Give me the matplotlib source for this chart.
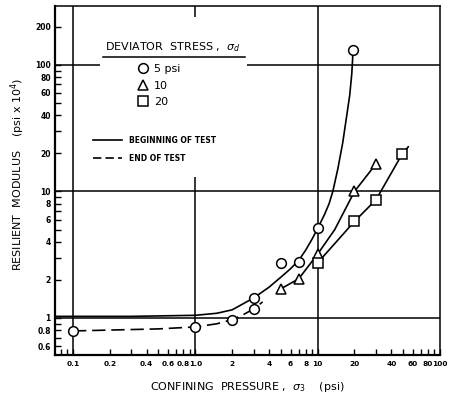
import numpy as np
import matplotlib
matplotlib.use("Agg")
import matplotlib.pyplot as plt
from matplotlib.lines import Line2D
from matplotlib.patches import Rectangle
from matplotlib.ticker import FixedLocator, FixedFormatter, LogLocator, NullFormatter

# measured points (confining pressure, resilient modulus)
circle_x = [0.1, 1.0, 2.0, 3.0, 3.0, 5.0, 7.0, 10.0, 19.4]
circle_y = [0.79, 0.85, 0.97, 1.18, 1.44, 2.73, 2.78, 5.1, 131.0]
tri_x = [5.0, 7.0, 10.0, 20.0, 30.0]
tri_y = [1.7, 2.04, 3.2, 10.0, 16.5]
sq_x = [10.0, 20.0, 30.0, 49.0]
sq_y = [2.73, 5.8, 8.6, 19.7]

# curves
begin5_x = [0.0713, 0.3, 1.0, 1.5, 2.0, 3.0, 4.0, 5.0, 6.0, 7.0, 8.0, 9.0, 10.0,
            11.4, 12.4, 13.3, 14.6, 16.0, 17.3, 18.3, 19.0, 19.3, 19.4]
begin5_y = [1.03, 1.03, 1.05, 1.09, 1.16, 1.44, 1.75, 2.1, 2.45, 2.85, 3.45, 4.2, 5.1,
            6.6, 8.0, 10.0, 15.0, 24.0, 40.0, 58.0, 85.0, 110.0, 131.0]
begin10_x = [5.0, 7.0, 10.0, 13.8, 20.0, 30.0]
begin10_y = [1.7, 2.04, 3.2, 5.0, 10.0, 16.5]
begin20_x = [10.0, 20.0, 30.0, 49.0, 55.0]
begin20_y = [2.73, 5.8, 8.6, 19.7, 22.5]
end5_x = [0.1, 0.5, 1.0, 1.5, 2.0, 2.5, 3.0, 3.55]
end5_y = [0.79, 0.82, 0.85, 0.9, 0.97, 1.07, 1.18, 1.34]

xtick_vals = [0.1, 0.2, 0.4, 0.6, 0.8, 1.0, 2, 4, 6, 8, 10, 20, 40, 60, 80, 100]
xtick_labels = ['0.1', '0.2', '0.4', '0.6', '0.8', '1.0', '2', '4', '6', '8', '10',
                '20', '40', '60', '80', '100']
ytick_vals = [0.6, 0.8, 1, 2, 4, 6, 8, 10, 20, 40, 60, 80, 100, 200]
ytick_labels = ['0.6', '0.8', '1', '2', '4', '6', '8', '10', '20', '40', '60', '80',
                '100', '200']
grid_x = [0.1, 1.0, 10.0]
grid_y = [1.0, 10.0, 100.0]

W, H = 453, 397
fig = plt.figure(figsize=(W / 100, H / 100), dpi=100)
ax = fig.add_axes([55 / W, 1 - 355 / H, 385 / W, 349 / H])
ax.set_xscale('log')
ax.set_yscale('log')
ax.set_xlim(0.0713, 100)
ax.set_ylim(0.51, 292)

for g in grid_x:
    ax.axvline(g, color='black', lw=1.1, zorder=1)
for g in grid_y:
    ax.axhline(g, color='black', lw=1.1, zorder=1)

# white area behind the key
ax.add_patch(Rectangle((0.117, 0.51), 0.382, 0.458, transform=ax.transAxes,
                       facecolor='white', edgecolor='none', zorder=2))

ax.plot(begin5_x, begin5_y, color='black', lw=1.2, zorder=3)
ax.plot(begin10_x, begin10_y, color='black', lw=1.2, zorder=3)
ax.plot(begin20_x, begin20_y, color='black', lw=1.2, zorder=3)
ax.plot(end5_x, end5_y, color='black', lw=1.2, dashes=(8, 3.5), zorder=3)

mk = dict(ls='none', mfc='white', mec='black', mew=1.1, zorder=4)
ax.plot(circle_x, circle_y, marker='o', ms=7, **mk)
ax.plot(tri_x, tri_y, marker='^', ms=7, **mk)
ax.plot(sq_x, sq_y, marker='s', ms=6.5, **mk)

# ticks
ax.xaxis.set_major_locator(FixedLocator(xtick_vals))
ax.xaxis.set_major_formatter(FixedFormatter(xtick_labels))
ax.xaxis.set_minor_locator(LogLocator(base=10, subs=np.arange(2, 10)))
ax.xaxis.set_minor_formatter(NullFormatter())
ax.yaxis.set_major_locator(FixedLocator(ytick_vals))
ax.yaxis.set_major_formatter(FixedFormatter(ytick_labels))
ax.yaxis.set_minor_locator(LogLocator(base=10, subs=np.arange(2, 10)))
ax.yaxis.set_minor_formatter(NullFormatter())
ax.tick_params(which='both', direction='in', length=4, width=1, color='black')
ax.tick_params(axis='x', which='major', pad=4, labelsize=5.3)
ax.tick_params(axis='y', which='major', pad=3, labelsize=5.5)
for lab in ax.get_xticklabels() + ax.get_yticklabels():
    lab.set_fontweight('bold')

for side in ['left', 'bottom']:
    ax.spines[side].set_linewidth(1.6)
for side in ['top', 'right']:
    ax.spines[side].set_linewidth(1.1)

ax.set_xlabel('CONFINING  PRESSURE ,  $\\sigma_3$    (psi)', fontsize=8, va='center')
ax.xaxis.set_label_coords(0.5, (355 - 387) / 349)
ax.set_ylabel('RESILIENT  MODULUS    (psi x 10$^4$)', fontsize=8, va='center')
ax.yaxis.set_label_coords((18 - 55) / 385, (355 - 174) / 349)

# key
ax.text((105 - 55) / 385, (355 - 47) / 349,
        'DEVIATOR  STRESS ,  $\\sigma_d$', transform=ax.transAxes,
        fontsize=8, va='center', ha='left', zorder=5)
ax.plot([(103 - 55) / 385, (245 - 55) / 385], [(355 - 57) / 349] * 2,
        transform=ax.transAxes, color='black', lw=1.1, zorder=5)

h1 = [Line2D([], [], marker='o', ms=7, **mk),
      Line2D([], [], marker='^', ms=7, **mk),
      Line2D([], [], marker='s', ms=6.5, **mk)]
leg1 = ax.legend(h1, ['5 psi', '10', '20'], loc='upper left',
                 bbox_to_anchor=(137 / W, 1 - 64 / H), bbox_transform=fig.transFigure,
                 frameon=False, fontsize=8, handlelength=1.0, handletextpad=0.5,
                 labelspacing=0.6, borderpad=0, borderaxespad=0)
ax.add_artist(leg1)
h2 = [Line2D([], [], color='black', lw=1.2),
      Line2D([], [], color='black', lw=1.2, dashes=(5, 2.5))]
leg2 = ax.legend(h2, ['BEGINNING OF TEST', 'END OF TEST'], loc='upper left',
                 bbox_to_anchor=(93 / W, 1 - 136 / H), bbox_transform=fig.transFigure,
                 frameon=False, handlelength=3.8, handletextpad=0.9,
                 labelspacing=1.2, borderpad=0, borderaxespad=0,
                 prop={'size': 5.5, 'weight': 'bold'})

fig.savefig('out.png', dpi=100)
